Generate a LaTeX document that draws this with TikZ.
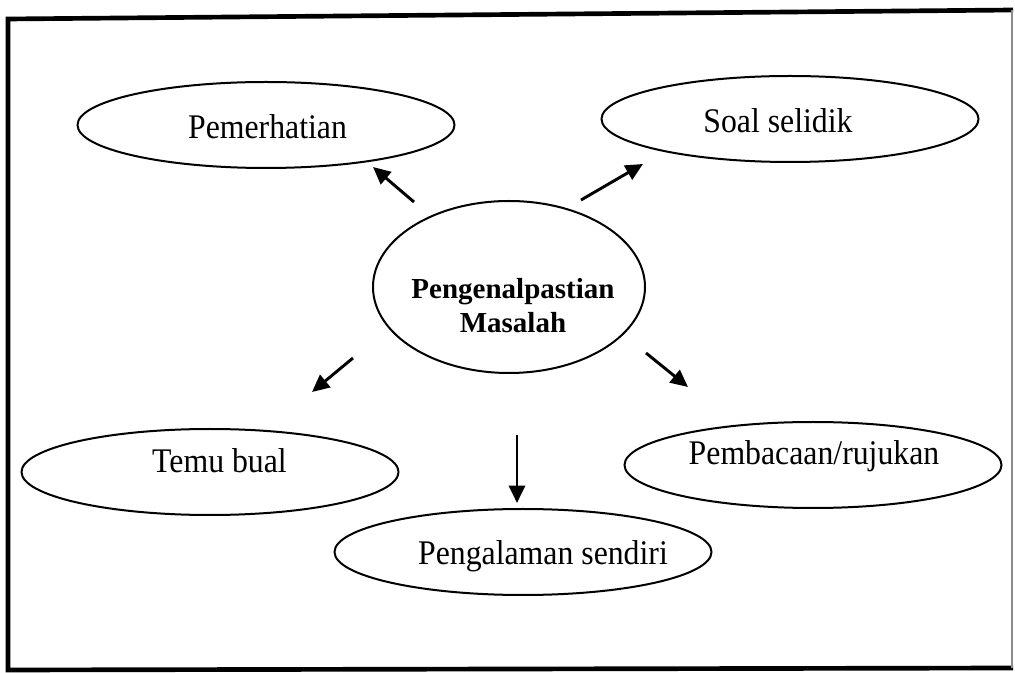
\documentclass[tikz,border=0pt]{standalone}
\usepackage{fontspec}
\setmainfont{Liberation Serif}
\newfontfamily\scanserif[FakeStretch=0.92]{Liberation Serif}
\usetikzlibrary{arrows.meta,shapes.geometric}

\begin{document}
\begin{tikzpicture}[x=0.75pt,y=-0.75pt,
	bubble/.style={ellipse,draw,line width=1.5pt,minimum width=282.75pt,minimum height=64.5pt,inner sep=0pt},
	hubshape/.style={bubble,minimum width=204pt,minimum height=129pt},
	lbl/.style={font=\scanserif\fontsize{25.9}{30}\selectfont,inner sep=0pt,anchor=base},
	arr/.style={line width=2.2pt,-{Triangle[length=13pt,width=12pt]}}]
	\useasboundingbox (0,0) rectangle (1015,673);
	% frame
	\draw[line width=3.5pt,line join=miter] (1013,10) -- (8,19) -- (8,670) -- (1013,668);
	\draw[line width=0.8pt,black!45] (1012,10) -- (1012,668);
	% ellipses
	\node[hubshape] (hub) at (509,287) {};
	\node[bubble] (pem) at (266,125) {};
	\node[bubble] (soal) at (790,119) {};
	\node[bubble] (temu) at (210,472) {};
	\node[bubble] (pemb) at (813,465) {};
	\node[bubble] (peng) at (523,552) {};
	% texts
	\node[font=\fontsize{21.75}{25.5}\bfseries,align=center,inner sep=0pt] (hubtxt) at (513,306) {Pengenalpastian\\Masalah};
	\node[lbl] (pemtxt) at (267.5,139) {Pemerhatian};
	\node[lbl] (soaltxt) at (778,133) {Soal selidik};
	\node[lbl] (temutxt) at (219.5,473) {Temu bual};
	\node[lbl] (pembtxt) at (814,465) {Pembacaan/rujukan};
	\node[lbl] (pengtxt) at (543,565) {Pengalaman sendiri};
	% arrows
	\foreach \n/\tx/\ty/\hx/\hy in {pem/-95/-85/107/42,soal/72/-87/-147/45,temu/-156/71/102/-80,peng/8/148/-6/-49,pemb/137/66/-125/-78}{
		\draw[arr] ([shift={(\tx,\ty)}]hub.center) -- ([shift={(\hx,\hy)}]\n.center);
	}
\end{tikzpicture}
\end{document}
